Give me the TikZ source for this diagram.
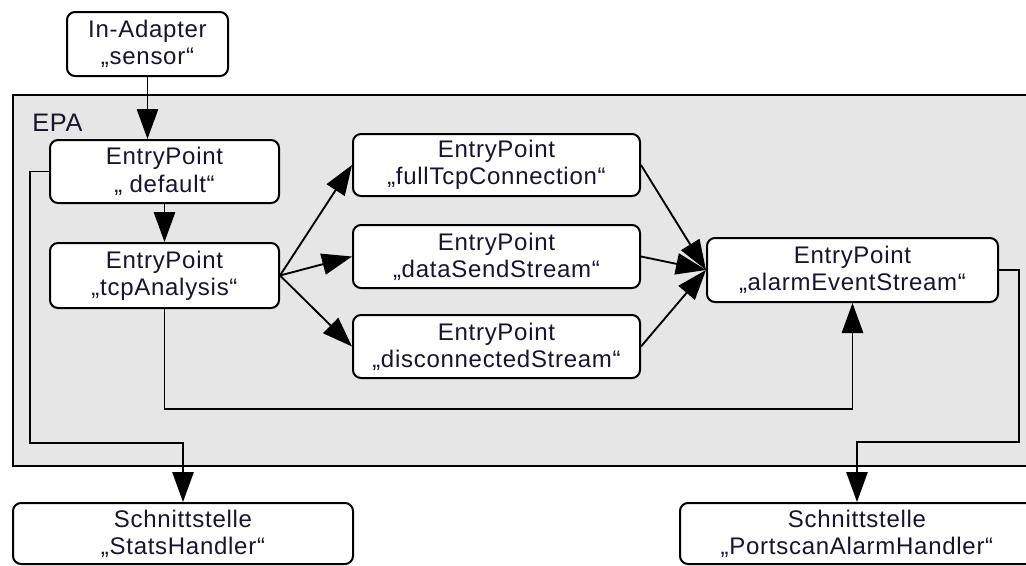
\documentclass[tikz,border=0pt]{standalone}
\usepackage{fontspec}
\setmainfont{Liberation Sans}[LetterSpace=3]
\usetikzlibrary{arrows.meta}
\definecolor{epagray}{RGB}{230,230,230}
\definecolor{txt}{RGB}{25,20,45}
\begin{document}
\begin{tikzpicture}[x=0.75pt,y=-0.75pt,
  box/.style={draw=black,line width=1.5pt,fill=white,rounded corners=6pt,text=txt,
    align=center,inner sep=0pt,font=\fontsize{18pt}{20.5pt}\selectfont},
  arr/.style={line width=1.4pt,-{Triangle[length=22.5pt,width=16pt]}}]
\useasboundingbox (0,0) rectangle (1026,565);
\clip (0,0) rectangle (1026,565);
\draw[line width=1.5pt,fill=epagray] (13,95) rectangle (1040,466);
\node[anchor=base west,inner sep=0pt,text=txt,font=\fontsize{19pt}{20pt}\selectfont] (epa) at (32,131) {EPA};
\node[box,minimum width=120.75pt,minimum height=48pt] (inad) at (147.5,44) {In-Adapter\\„sensor“};
\node[box,minimum width=171.75pt,minimum height=47.25pt] (def) at (164.5,171.5) {EntryPoint\\„ default“};
\node[box,minimum width=171.75pt,minimum height=48.75pt] (tcp) at (164.5,275.5) {EntryPoint\\„tcpAnalysis“};
\node[box,minimum width=215.25pt,minimum height=46.5pt] (full) at (496.5,165) {EntryPoint\\„fullTcpConnection“};
\node[box,minimum width=215.25pt,minimum height=47.25pt] (data) at (496.5,256.5) {EntryPoint\\„dataSendStream“};
\node[box,minimum width=215.25pt,minimum height=47.25pt] (disc) at (496.5,346.5) {EntryPoint\\„disconnectedStream“};
\node[box,minimum width=218.25pt,minimum height=48pt] (alarm) at (852.5,270) {EntryPoint\\„alarmEventStream“};
\node[box,minimum width=255pt,minimum height=45.75pt] (stats) at (183,533.5) {Schnittstelle\\„StatsHandler“};
\node[box,minimum width=265.5pt,minimum height=45.75pt] (port) at (857,533.5) {Schnittstelle\\„PortscanAlarmHandler“};
\coordinate (c1) at (30,443);
\coordinate (c2) at (852.5,409);
\coordinate (c3) at (1019,442);
\draw[arr] (inad.south) -- (inad.south |- def.north);
\draw[arr] (def.south) -- (tcp.north);
\draw[arr] (tcp.east) -- (full.west);
\draw[arr] (tcp.east) -- (data.west);
\draw[arr] (tcp.east) -- (disc.west);
\draw[arr] (full.east) -- (alarm.west);
\draw[arr] (data.east) -- (alarm.west);
\draw[arr] (disc.east) -- (alarm.west);
\draw[arr] (def.west) -| (c1) -| (stats.north);
\draw[arr] (tcp.south) |- (c2) -- (alarm.south);
\draw[arr] (alarm.east) -| (c3) -| (port.north);
\end{tikzpicture}
\end{document}
